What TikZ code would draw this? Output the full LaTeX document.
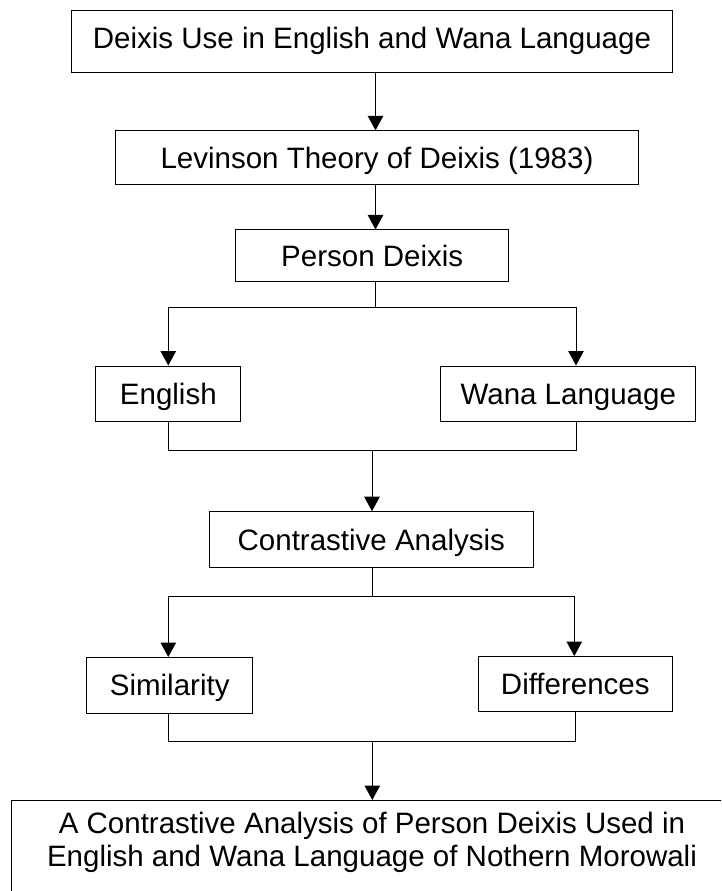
\documentclass[tikz,border=0pt]{standalone}
\usepackage{fontspec}
\setmainfont{Liberation Sans}
\usetikzlibrary{arrows.meta}
\newcommand{\boxfont}{\fontsize{29.5}{33.5}\selectfont}
\begin{document}
\begin{tikzpicture}[x=1pt,y=-1pt,
  box/.style={draw=black, line width=1pt, inner sep=0pt, font=\boxfont, text height=21.1pt, text depth=0pt},
  ln/.style={draw=black, line width=1pt},
  arr/.style={-{Triangle[width=15.5pt,length=14.5pt]}}]
\useasboundingbox (0,0) rectangle (721,891);
\clip (0,0) rectangle (721,891);
\fill[white] (0,0) rectangle (721,891);

% boxes
\node[box, text depth=7.4pt, minimum width=600.6pt, minimum height=62.3pt] (top) at (372,41.2) {Deixis Use in English and Wana Language};
\node[box, minimum width=522.6pt, minimum height=53.3pt] (lev) at (377,157.5) {Levinson Theory of Deixis (1983)};
\node[box, minimum width=272.5pt, minimum height=51.7pt] (per) at (372.2,255.8) {Person Deixis};
\node[box, minimum width=145.3pt, minimum height=55pt] (eng) at (168.3,393.5) {English};
\node[box, minimum width=255.3pt, minimum height=55pt] (wana) at (568.3,393.5) {Wana Language};
\node[box, minimum width=324pt, minimum height=55.6pt] (con) at (371.3,539.5) {Contrastive Analysis};
\node[box, minimum width=166pt, minimum height=55.6pt] (sim) at (169.7,685.3) {Similarity};
\node[box, minimum width=194pt, minimum height=55.2pt] (dif) at (575.3,684.1) {Differences};
\node[box, minimum width=722.3pt, minimum height=100pt, anchor=north west] (bot) at (10.7,800) {};
\node[font=\boxfont, align=center, inner sep=0pt] (bottxt) at (372,842.5) {A Contrastive Analysis of Person Deixis Used in\\English and Wana Language of Nothern Morowali};

% column coordinates
\coordinate (xa) at (375.5,0);
\coordinate (xw) at (576,0);
\coordinate (xd) at (574.3,0);
\coordinate (xd2) at (575.7,0);
\coordinate (b1) at (375.5,307.7);
\coordinate (j1) at (372,450);
\coordinate (b2) at (372.3,596.7);
\coordinate (j2) at (372.3,741.7);

% connectors
\draw[ln,arr] (top.south -| xa) -- (lev.north -| xa);
\draw[ln,arr] (lev.south -| xa) -- (per.north -| xa);
\draw[ln] (per.south -| b1) -- (b1);
\draw[ln,arr] (b1) -| (eng.north);
\draw[ln,arr] (b1) -| (wana.north -| xw);
\draw[ln] (eng.south) |- (j1);
\draw[ln] (wana.south -| xw) |- (j1);
\draw[ln,arr] (j1) -- (con.north -| j1);
\draw[ln] (con.south -| b2) -- (b2);
\draw[ln,arr] (b2) -| (sim.north -| eng.north);
\draw[ln,arr] (b2) -| (dif.north -| xd);
\draw[ln] (sim.south -| eng.south) |- (j2);
\draw[ln] (dif.south -| xd2) |- (j2);
\draw[ln,arr] (j2) -- (bot.north -| j2);
\end{tikzpicture}
\end{document}
